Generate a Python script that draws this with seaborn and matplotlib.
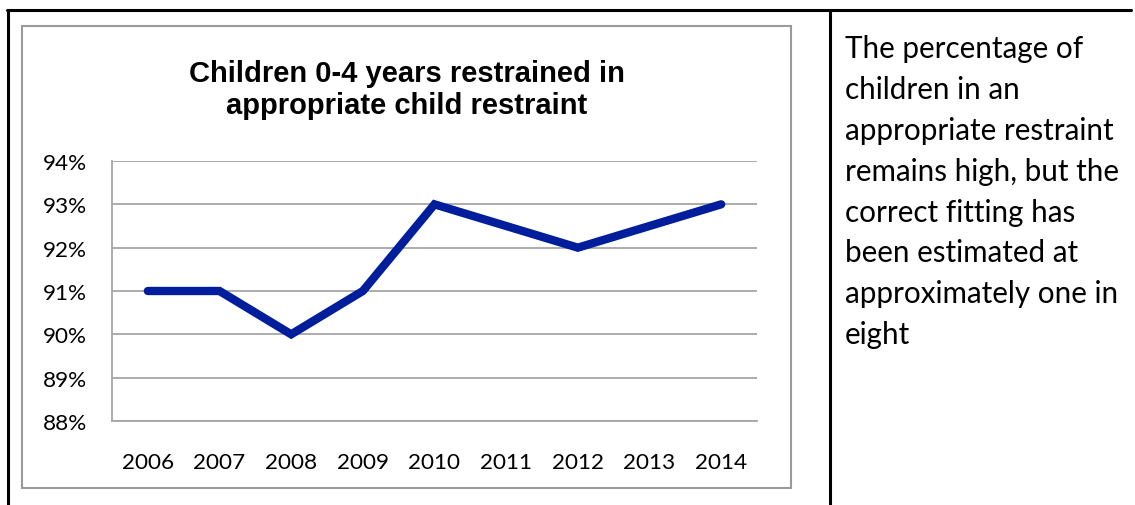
import matplotlib
matplotlib.use("Agg")
import matplotlib.pyplot as plt
from matplotlib.lines import Line2D
from matplotlib.patches import Rectangle
from matplotlib.ticker import FuncFormatter
import seaborn as sns
import pandas as pd

# Data series
years = ["2006", "2007", "2008", "2009", "2010", "2011", "2012", "2013", "2014"]
restrained_pct = [91, 91, 90, 91, 93, 92.5, 92, 92.5, 93]
y_ticks = [88, 89, 90, 91, 92, 93, 94]

title = "Children 0-4 years restrained in\nappropriate child restraint"
note = ("The percentage of\nchildren in an\nappropriate restraint\n"
        "remains high, but the\ncorrect fitting has\nbeen estimated at\n"
        "approximately one in\neight")

sns.set_theme(style="white")
plt.rcParams["font.family"] = ["Lato", "DejaVu Sans"]

W, H = 1135, 506
fig = plt.figure(figsize=(W / 100, H / 100), dpi=100)


def fx(px):
    return px / W


def fy(py):
    return 1 - py / H


# Table-like frame lines around the panel
frame_kw = dict(color="black", linewidth=2.2, transform=fig.transFigure)
fig.add_artist(Line2D([fx(7), fx(1131)], [fy(11), fy(11)], **frame_kw))
fig.add_artist(Line2D([fx(8), fx(8)], [fy(11), fy(506)], **frame_kw))
fig.add_artist(Line2D([fx(830), fx(830)], [fy(11), fy(506)], **frame_kw))

# Chart area border
fig.add_artist(Rectangle((fx(22), fy(489)), fx(791) - fx(22), fy(27) - fy(489),
                         transform=fig.transFigure, fill=False,
                         edgecolor="#9a9a9a", linewidth=1.5))

ax = fig.add_axes([fx(112), fy(422), fx(757) - fx(112), fy(162) - fy(422)])

df = pd.DataFrame({"year": years, "pct": restrained_pct})
sns.lineplot(data=df, x="year", y="pct", ax=ax, color="#001E9C",
             linewidth=6.0, solid_capstyle="round", solid_joinstyle="miter",
             sort=False)

ax.set_xlim(-0.5, len(years) - 0.5)
ax.set_ylim(y_ticks[0], y_ticks[-1])
ax.set_yticks(y_ticks)
ax.yaxis.set_major_formatter(FuncFormatter(lambda v, _: f"{v:.0f}%"))
ax.grid(axis="y", color="#a6a6a6", linewidth=1.3)
ax.grid(axis="x", visible=False)
ax.set_axisbelow(True)
for side in ["top", "right"]:
    ax.spines[side].set_visible(False)
for side in ["left", "bottom"]:
    ax.spines[side].set_color("#a6a6a6")
    ax.spines[side].set_linewidth(1.3)
ax.set_xlabel("")
ax.set_ylabel("")
ax.tick_params(axis="both", length=0, labelsize=16.2, colors="black")
ax.tick_params(axis="y", pad=18)
ax.tick_params(axis="x", pad=22)

fig.text(fx(407), fy(90), title, ha="center", va="center",
         fontsize=21, fontweight="bold", family=["Liberation Sans"],
         linespacing=1.17, color="black")

fig.text(fx(845), fy(35), note, ha="left", va="top", fontsize=21.3,
         linespacing=1.56, color="black")

fig.savefig("out.png", dpi=100)
